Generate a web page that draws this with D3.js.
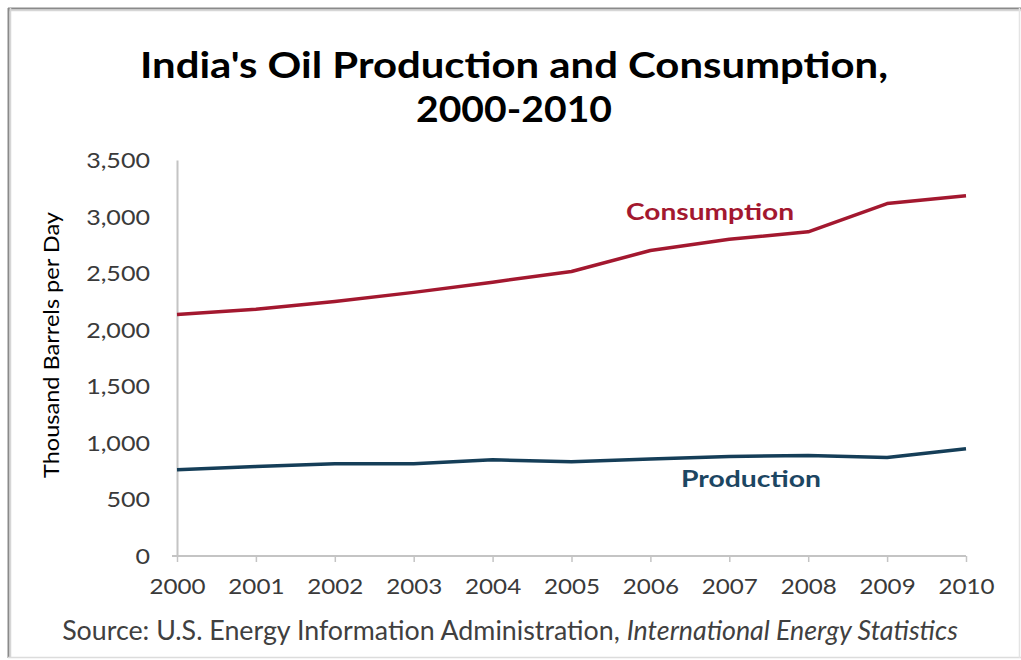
<!DOCTYPE html>
<html>
<head>
<meta charset="utf-8">
<script src="https://cdn.jsdelivr.net/npm/d3@7"></script>
<style>
  html, body { margin: 0; padding: 0; background: #fff; }
  svg { display: block; }
  text { font-family: Lato, "Open Sans", sans-serif; }
</style>
</head>
<body>
<svg id="chart" width="1021" height="660"></svg>
<script>
// ---- data ----
const years = [2000, 2001, 2002, 2003, 2004, 2005, 2006, 2007, 2008, 2009, 2010];
const consumption = [2135, 2180, 2250, 2330, 2420, 2515, 2700, 2800, 2865, 3115, 3185];
const production = [762, 790, 815, 815, 850, 833, 857, 880, 889, 871, 948];
const yTicks = [0, 500, 1000, 1500, 2000, 2500, 3000, 3500];
const titleLines = ["India's Oil Production and Consumption,", "2000-2010"];
const yAxisTitle = "Thousand Barrels per Day";
const seriesNames = ["Consumption", "Production"];
const sourcePlain = "Source: U.S. Energy Information Administration, ";
const sourceItalic = "International Energy Statistics";

// ---- layout ----
const svg = d3.select("#chart");
const W = 1021, H = 660;
const plot = { left: 177, right: 966, top: 160, bottom: 556 };

// frame
svg.append("line").attr("x1", 8).attr("x2", W).attr("y1", 8.5).attr("y2", 8.5)
  .attr("stroke", "#8a8a8a").attr("stroke-width", 2);
svg.append("line").attr("x1", 8).attr("x2", W).attr("y1", 10.5).attr("y2", 10.5)
  .attr("stroke", "#d6d6d6").attr("stroke-width", 1.5);
svg.append("line").attr("x1", 8.5).attr("x2", 8.5).attr("y1", 8).attr("y2", 658)
  .attr("stroke", "#8a8a8a").attr("stroke-width", 2);
svg.append("line").attr("x1", 10.5).attr("x2", 10.5).attr("y1", 8).attr("y2", 658)
  .attr("stroke", "#d6d6d6").attr("stroke-width", 1.5);
svg.append("line").attr("x1", 8).attr("x2", W).attr("y1", 657.5).attr("y2", 657.5)
  .attr("stroke", "#dcdcdc").attr("stroke-width", 1.5);
svg.append("line").attr("x1", 1019.5).attr("x2", 1019.5).attr("y1", 8).attr("y2", 658)
  .attr("stroke", "#e4e4e4").attr("stroke-width", 1.5);

// helper: fit text to a target width by adjusting font size
function fit(sel, targetWidth) {
  const node = sel.node();
  const fs = parseFloat(sel.attr("font-size"));
  const w = node.getComputedTextLength();
  if (w > 0) sel.attr("font-size", (fs * targetWidth / w).toFixed(2));
  return sel;
}
// helper: stretch glyphs horizontally to a target width
function stretchTo(sel, targetWidth) {
  sel.attr("textLength", targetWidth).attr("lengthAdjust", "spacingAndGlyphs");
  return sel;
}
function stretchBy(sel, factor) {
  sel.each(function () {
    const w = this.getComputedTextLength();
    d3.select(this).attr("textLength", (w * factor).toFixed(2)).attr("lengthAdjust", "spacingAndGlyphs");
  });
  return sel;
}

// title
const t1 = svg.append("text").attr("x", 514).attr("y", 78).attr("text-anchor", "middle")
  .attr("font-size", 37).attr("font-weight", 700).attr("fill", "#000").text(titleLines[0]);
stretchTo(t1, 748);
const t2 = svg.append("text").attr("x", 514).attr("y", 122).attr("text-anchor", "middle")
  .attr("font-size", 37).attr("font-weight", 700).attr("fill", "#000").text(titleLines[1]);
stretchTo(t2, 196);

// scales
const x = d3.scaleLinear().domain([years[0], years[years.length - 1]]).range([plot.left, plot.right]);
const y = d3.scaleLinear().domain([0, 3500]).range([plot.bottom, plot.top]);

// y axis
const yAxis = svg.append("g").attr("transform", `translate(${plot.left},0)`)
  .call(d3.axisLeft(y).tickValues(yTicks).tickSize(0).tickPadding(27)
    .tickFormat(d3.format(",")));
yAxis.select(".domain").attr("stroke", "#c4c4c4").attr("stroke-width", 2);
yAxis.selectAll("text").attr("font-size", 22).attr("fill", "#3a3a3a")
  .attr("font-family", "Lato, sans-serif").attr("dy", "0.34em");
stretchBy(yAxis.selectAll("text"), 1.14);

// x axis
const xAxis = svg.append("g").attr("transform", `translate(0,${plot.bottom})`)
  .call(d3.axisBottom(x).tickValues(years).tickSize(6).tickPadding(16)
    .tickFormat(d3.format("d")));
xAxis.select(".domain").attr("stroke", "#c4c4c4").attr("stroke-width", 2)
  .attr("d", `M${plot.left - 5},0H${plot.right}`);
xAxis.selectAll(".tick line").attr("stroke", "#c4c4c4").attr("stroke-width", 1.5);
xAxis.selectAll("text").attr("font-size", 22).attr("fill", "#3a3a3a")
  .attr("font-family", "Lato, sans-serif");
stretchBy(xAxis.selectAll("text"), 1.1);

// y axis title
const yt = svg.append("text").attr("transform", "translate(59,345) rotate(-90)")
  .attr("text-anchor", "middle").attr("font-size", 21).attr("fill", "#000")
  .text(yAxisTitle);
stretchTo(yt, 266);

// lines
const line = d3.line().x((d, i) => x(years[i])).y(d => y(d));
svg.append("path").datum(consumption).attr("d", line).attr("fill", "none")
  .attr("stroke", "#a3182f").attr("stroke-width", 3.5).attr("stroke-linejoin", "round");
svg.append("path").datum(production).attr("d", line).attr("fill", "none")
  .attr("stroke", "#153e58").attr("stroke-width", 3.5).attr("stroke-linejoin", "round");

// series labels
const cl = svg.append("text").attr("x", 710).attr("y", 220).attr("text-anchor", "middle")
  .attr("font-size", 22).attr("font-weight", 700).attr("fill", "#a3182f").text(seriesNames[0]);
stretchTo(cl, 168);
const pl = svg.append("text").attr("x", 751).attr("y", 487).attr("text-anchor", "middle")
  .attr("font-size", 22).attr("font-weight", 700).attr("fill", "#1c4662").text(seriesNames[1]);
stretchTo(pl, 140);

// source
const src = svg.append("text").attr("x", 510).attr("y", 640).attr("text-anchor", "middle")
  .attr("font-size", 19).attr("fill", "#404040");
src.append("tspan").text(sourcePlain);
src.append("tspan").attr("font-style", "italic").text(sourceItalic);
fit(src, 896);
</script>
</body>
</html>
